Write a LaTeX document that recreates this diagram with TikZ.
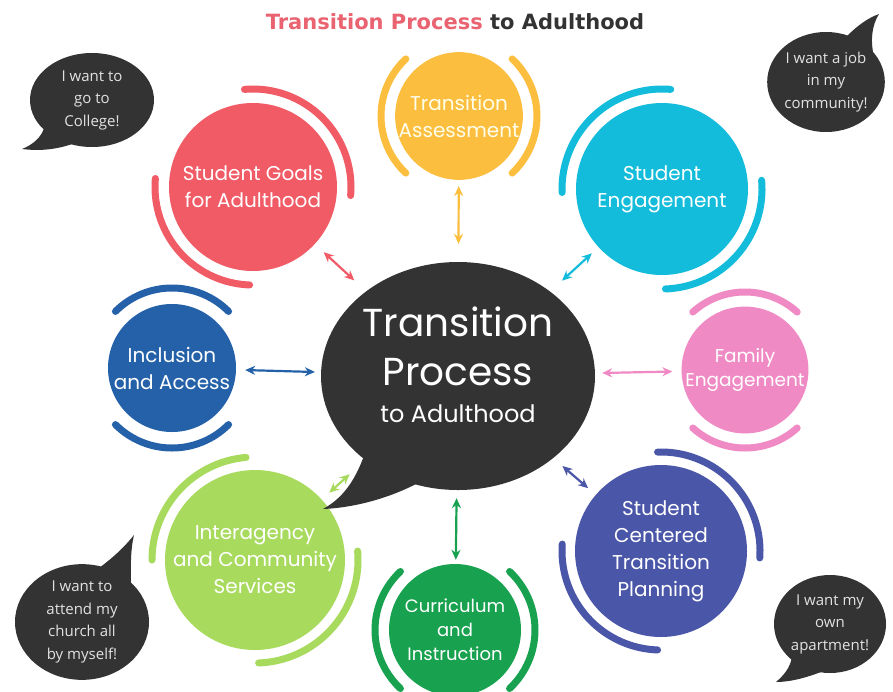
\documentclass[tikz,border=0pt]{standalone}
\usepackage{fontspec}
\setmainfont{Poppins}
\newfontfamily\titlefont{DejaVu Sans}
\newfontfamily\bubfont{Open Sans}
\usetikzlibrary{shapes.geometric,arrows.meta}
\definecolor{cred}{HTML}{F15B66}
\definecolor{cyellow}{HTML}{FBBE3E}
\definecolor{ccyan}{HTML}{12BCDA}
\definecolor{cpink}{HTML}{F08AC4}
\definecolor{cblue}{HTML}{2461A8}
\definecolor{clgreen}{HTML}{A8DA5E}
\definecolor{cdgreen}{HTML}{18A14F}
\definecolor{cindigo}{HTML}{4A56A8}
\definecolor{dark}{HTML}{333333}
\definecolor{bubtext}{HTML}{E2E2E2}
\definecolor{tred}{HTML}{E96371}
\definecolor{ttext}{HTML}{333333}
\tikzset{
  circ/.style={circle, inner sep=0pt, text=white, align=center, font=\fontsize{20}{27}\selectfont},
  ring/.style={line width=7pt, line cap=round},
  arr/.style={line width=2.2pt, {Stealth[length=10pt,width=9pt]}-{Stealth[length=10pt,width=9pt]}},
  bub/.style={ellipse, fill=dark, inner sep=0pt, text=bubtext, align=center, font=\bubfont\fontsize{15}{22.5}\selectfont},
}
\begin{document}
\begin{tikzpicture}[x=1pt,y=1pt]
\useasboundingbox (0,0) rectangle (893,-691);
\fill[white] (0,0) rectangle (893,-691);

% title
\node[font=\titlefont\bfseries\fontsize{21}{25}\selectfont, text=ttext] (title) at (455,-22) {\textcolor{tred}{Transition Process} to Adulthood};

% circles
\node[circ, fill=cred, minimum size=168pt] (goals) at (253,-187) {Student Goals\\for Adulthood};
\node[circ, fill=cyellow, minimum size=126pt, text=white!92!yellow] (assess) at (459,-116) {Transition\\Assessment};
\node[circ, fill=ccyan, minimum size=172pt] (engage) at (662,-189) {Student\\Engagement};
\node[circ, fill=cpink, minimum size=126pt, font=\fontsize{18.5}{24}\selectfont] (family) at (745,-370) {Family\\Engagement};
\node[circ, fill=cblue, minimum size=128pt] (incl) at (172,-368) {Inclusion\\and Access};
\node[circ, fill=clgreen, minimum size=180pt] (inter) at (255,-560) {Interagency\\and Community\\Services};
\node[circ, fill=cdgreen, minimum size=132pt, font=\fontsize{18}{24}\selectfont] (curr) at (455,-630) {Curriculum\\and\\Instruction};
\node[circ, fill=cindigo, minimum size=172pt] (plan) at (661,-551) {Student\\Centered\\Transition\\Planning};

% rings
\draw[ring, cred] ([shift={(95:98)}]goals.center) arc[start angle=95, end angle=-5, radius=98];
\draw[ring, cred] ([shift={(175:98)}]goals.center) arc[start angle=175, end angle=268, radius=98];
\draw[ring, cyellow] ([shift={(133:78)}]assess.center) arc[start angle=133, end angle=227, radius=78];
\draw[ring, cyellow] ([shift={(47:78)}]assess.center) arc[start angle=47, end angle=-47, radius=78];
\draw[ring, ccyan] ([shift={(85:100)}]engage.center) arc[start angle=85, end angle=182, radius=100];
\draw[ring, ccyan] ([shift={(5:100)}]engage.center) arc[start angle=5, end angle=-88, radius=100];
\draw[ring, cpink] ([shift={(48:78)}]family.center) arc[start angle=48, end angle=132, radius=78];
\draw[ring, cpink] ([shift={(228:78)}]family.center) arc[start angle=228, end angle=312, radius=78];
\draw[ring, cblue] ([shift={(45:80)}]incl.center) arc[start angle=45, end angle=135, radius=80];
\draw[ring, cblue] ([shift={(225:80)}]incl.center) arc[start angle=225, end angle=315, radius=80];
\draw[ring, clgreen] ([shift={(95:103)}]inter.center) arc[start angle=95, end angle=180, radius=103];
\draw[ring, clgreen] ([shift={(5:103)}]inter.center) arc[start angle=5, end angle=-88, radius=103];
\draw[ring, cdgreen] ([shift={(133:80)}]curr.center) arc[start angle=133, end angle=227, radius=80];
\draw[ring, cdgreen] ([shift={(47:80)}]curr.center) arc[start angle=47, end angle=-47, radius=80];
\draw[ring, cindigo] ([shift={(92:99)}]plan.center) arc[start angle=92, end angle=-4, radius=99];
\draw[ring, cindigo] ([shift={(176:99)}]plan.center) arc[start angle=176, end angle=268, radius=99];

% central bubble
\fill[dark] (364,-456) .. controls (357,-474) and (347,-496) .. (323,-509) .. controls (350,-508) and (385,-500) .. (416,-484) -- (430,-440) -- cycle;
\node[ellipse, fill=dark, minimum width=274pt, minimum height=228pt, inner sep=0pt, text=white, align=center, font=\fontsize{39}{49}\selectfont] (cbub) at (458,-376)
  {Transition\\Process\\[-12pt]{\fontsize{24}{30}\selectfont to Adulthood}\rule[-22pt]{0pt}{1pt}};

% arrows
\draw[arr, cred, shorten <=12pt, shorten >=16pt] (goals) -- (cbub);
\draw[arr, cyellow, shorten <=6pt, shorten >=18pt] (assess) -- (cbub);
\draw[arr, ccyan, shorten <=9pt, shorten >=16pt] (engage) -- (cbub);
\draw[arr, cpink, shorten <=9pt, shorten >=7pt] (family) -- (cbub);
\draw[arr, cblue, shorten <=9pt, shorten >=6pt] (incl) -- (cbub);
\draw[arr, clgreen, shorten <=10pt, shorten >=21pt] (inter) -- (cbub);
\draw[arr, cdgreen, shorten <=4pt, shorten >=8pt] (curr) -- (cbub);
\draw[arr, cindigo, shorten <=10pt, shorten >=12pt] (plan) -- (cbub);

% small speech bubbles
\fill[dark] (45,-125) .. controls (42,-138) and (32,-145) .. (22,-149) .. controls (38,-151) and (55,-150) .. (72,-144) -- (80,-120) -- cycle;
\node[bub, minimum width=124pt, minimum height=94pt] (b1) at (92,-100) {I want to\\go to\\College!};

\fill[dark] (846,-37) .. controls (858,-25) and (868,-18) .. (879,-14) .. controls (872,-25) and (870,-40) .. (874,-57) -- (840,-70) -- cycle;
\node[bub, minimum width=116pt, minimum height=100pt] (b2) at (826,-82) {I want a job\\in my\\community!};

\fill[dark] (95,-571) .. controls (110,-560) and (122,-550) .. (134,-535) .. controls (130,-552) and (131,-568) .. (131,-587) -- (100,-600) -- cycle;
\node[bub, minimum width=134pt, minimum height=112pt] (b3) at (82,-622) {I want to\\attend my\\church all\\by myself!};

\fill[dark] (792,-657) .. controls (790,-668) and (784,-675) .. (776,-682) .. controls (790,-682) and (805,-678) .. (821,-672) -- (815,-640) -- cycle;
\node[bub, minimum width=112pt, minimum height=98pt] (b4) at (830,-624) {I want my\\own\\apartment!};
\end{tikzpicture}
\end{document}
